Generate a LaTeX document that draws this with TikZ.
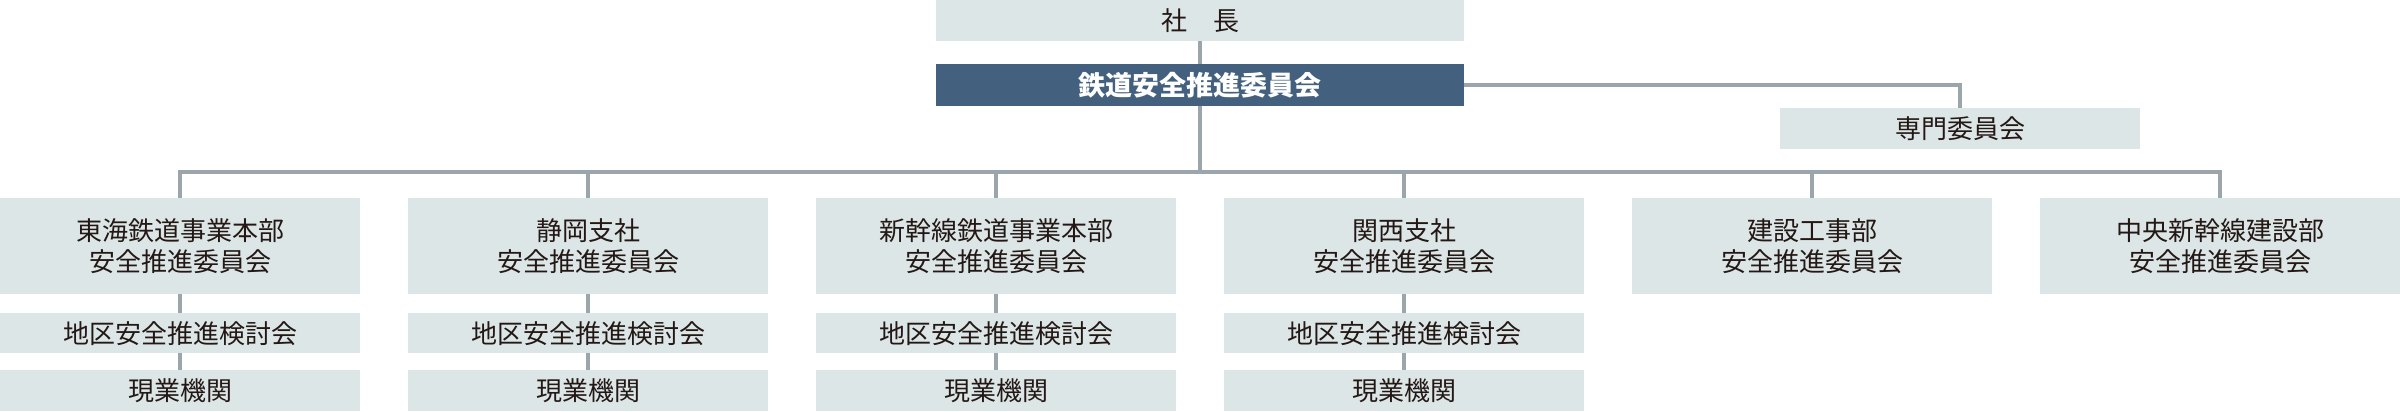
\documentclass[tikz,border=0pt]{standalone}
\usepackage{fontspec}
\usepackage{xcolor}
\newfontfamily\jp{Noto Sans CJK JP}
\definecolor{boxfill}{HTML}{DCE6E6}
\definecolor{headfill}{HTML}{43607E}
\definecolor{linegray}{HTML}{9BA5AC}
\definecolor{ink}{HTML}{231815}
\tikzset{unit/.style={fill=boxfill, text=ink, inner sep=0pt, anchor=north,
   align=center, font=\jp\fontsize{26}{31}\selectfont},
 wide/.style={unit, minimum width=528pt, minimum height=41pt},
 dept/.style={unit, minimum width=360pt, minimum height=96pt},
 sub/.style={unit, minimum width=360pt, minimum height=40pt},
 head/.style={wide, fill=headfill, text=white, minimum height=42pt,
   font=\jp\bfseries\fontsize{27}{31}\selectfont},
 link/.style={draw=linegray, line width=4.5pt},
 }

\begin{document}
\begin{tikzpicture}[x=1pt, y=-1pt]
        \useasboundingbox (0, 0) rectangle (2400, 412);

        \node[wide] (boss) at (1200, 0) {社　長};
        \node[head] (comm) at (1200, 64) {鉄道安全推進委員会};
        \node[sub, minimum height=41pt] (spec) at (1960, 108) {専門委員会};
        \coordinate (bus) at (1200, 172);

        \foreach \txt [count=\i] in {{東海鉄道事業本部\\安全推進委員会}, {静岡支社\\安全推進委員会},
            {新幹線鉄道事業本部\\安全推進委員会}, {関西支社\\安全推進委員会},
            {建設工事部\\安全推進委員会}, {中央新幹線建設部\\安全推進委員会}} {
            \node[dept] (b\i) at (180+408*\i-408, 198) {\txt};
        }
        \foreach \i in {1, 2, 3, 4} {
            \node[sub] (s\i) at (b\i.south |- 0, 313) {地区安全推進検討会};
            \node[sub, minimum height=41pt] (t\i) at (b\i.south |- 0, 370) {現業機関};
            \draw[link] (b\i.south) -- (s\i.north);
            \draw[link] (s\i.south) -- (t\i.north);
        }

        \draw[link] (boss.south) -- (comm.north);
        \draw[link] (comm.east) -| (spec.north);
        \draw[link] (comm.south) -- (bus);
        \draw[link] (b1.north) |- (bus) -| (b6.north);
        \foreach \i in {2, 3, 4, 5} {
            \draw[link] (b\i.north) -- (b\i.north |- bus);
        }
    \end{tikzpicture}
\end{document}
